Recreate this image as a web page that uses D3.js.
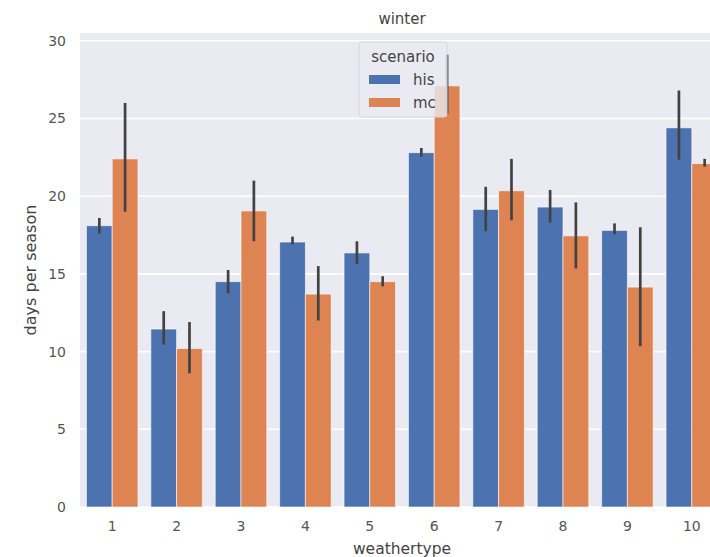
<!doctype html>
<html lang="en">
<head>
    <meta charset="utf-8">
    <title>winter</title>
    <script src="https://cdnjs.cloudflare.com/ajax/libs/d3/7.8.5/d3.min.js"></script>
    <style>
        body { margin: 0; background: #fff; }
        svg { display: block; font-family: 'DejaVu Sans', sans-serif; }
    </style>
</head>
<body>
    <svg id="chart" width="710" height="557"></svg>
    <script>
        // weather types and scenarios
        const categories = ["1", "2", "3", "4", "5", "6", "7", "8", "9", "10"];
        const scenarios = ["his", "mc"];
        const colors = ["#4c72b0", "#dd8452"];

        // mean days per season
        const hisValues = [18.1, 11.45, 14.5, 17.05, 16.35, 22.8, 19.15, 19.3, 17.8, 24.4];
        const mcValues = [22.4, 10.2, 19.05, 13.7, 14.5, 27.1, 20.35, 17.45, 14.15, 22.1];

        // confidence interval low / high
        const hisLow = [17.6, 10.45, 13.75, 16.9, 15.65, 22.55, 17.75, 18.3, 17.55, 22.35];
        const hisHigh = [18.6, 12.6, 15.25, 17.4, 17.1, 23.1, 20.6, 20.4, 18.25, 26.8];
        const mcLow = [19.0, 8.6, 17.1, 12.0, 14.2, 25.3, 18.45, 15.35, 10.35, 21.9];
        const mcHigh = [26.0, 11.9, 21.0, 15.5, 14.85, 29.1, 22.4, 19.6, 18.0, 22.4];

        const yTicks = [0, 5, 10, 15, 20, 25, 30];

        const series = [
            {name: "his", values: hisValues, low: hisLow, high: hisHigh},
            {name: "mc", values: mcValues, low: mcLow, high: mcHigh}
        ];

        const svg = d3.select("#chart");
        const plotLeft = 80, plotRight = 724, plotTop = 33, plotBottom = 507;

        const x = d3.scaleBand().domain(categories).range([plotLeft, plotRight]).paddingInner(0.2).paddingOuter(0.1);
        const xs = d3.scaleBand().domain(scenarios).range([0, x.bandwidth()]);
        const y = d3.scaleLinear().domain([0, 30.5]).range([plotBottom, plotTop]);

        // background
        svg.append("rect")
            .attr("x", plotLeft).attr("y", plotTop)
            .attr("width", plotRight - plotLeft).attr("height", plotBottom - plotTop)
            .attr("fill", "#eaeaf2");

        // grid
        svg.append("g")
            .selectAll("line")
            .data(yTicks)
            .enter()
            .append("line")
            .attr("x1", plotLeft).attr("x2", plotRight)
            .attr("y1", d => y(d)).attr("y2", d => y(d))
            .attr("stroke", "#fff")
            .attr("stroke-width", 1.6);

        // bars
        series.forEach((s, si) => {
            const g = svg.append("g");
            g.selectAll("rect")
                .data(s.values)
                .enter()
                .append("rect")
                .attr("x", (d, i) => x(categories[i]) + xs(s.name))
                .attr("y", d => y(d))
                .attr("width", xs.bandwidth())
                .attr("height", d => y(0) - y(d))
                .attr("fill", colors[si])
                .attr("stroke", "#fff")
                .attr("stroke-opacity", 0.6)
                .attr("stroke-width", 1);

            g.selectAll("line")
                .data(s.values)
                .enter()
                .append("line")
                .attr("x1", (d, i) => x(categories[i]) + xs(s.name) + xs.bandwidth() / 2)
                .attr("x2", (d, i) => x(categories[i]) + xs(s.name) + xs.bandwidth() / 2)
                .attr("y1", (d, i) => y(s.low[i]))
                .attr("y2", (d, i) => y(s.high[i]))
                .attr("stroke", "#424242")
                .attr("stroke-width", 2.7);
        });

        // axes
        const yAxis = svg.append("g")
            .attr("transform", `translate(${plotLeft},0)`)
            .call(d3.axisLeft(y).tickValues(yTicks).tickSize(0).tickPadding(14));
        yAxis.select(".domain").remove();
        yAxis.selectAll("text").attr("font-size", 14).attr("fill", "#555").attr("font-family", "'DejaVu Sans', sans-serif");

        const xAxis = svg.append("g")
            .attr("transform", `translate(0,${plotBottom})`)
            .call(d3.axisBottom(x).tickSize(0).tickPadding(14));
        xAxis.select(".domain").remove();
        xAxis.selectAll("text").attr("font-size", 14).attr("fill", "#555").attr("font-family", "'DejaVu Sans', sans-serif");

        // labels
        svg.append("text")
            .attr("x", (plotLeft + plotRight) / 2).attr("y", 24)
            .attr("text-anchor", "middle")
            .attr("font-size", 15).attr("fill", "#444")
            .text("winter");

        svg.append("text")
            .attr("x", (plotLeft + plotRight) / 2).attr("y", 554)
            .attr("text-anchor", "middle")
            .attr("font-size", 15.5).attr("fill", "#444")
            .text("weathertype");

        svg.append("text")
            .attr("transform", `translate(36,${(plotTop + plotBottom) / 2}) rotate(-90)`)
            .attr("text-anchor", "middle")
            .attr("font-size", 16).attr("fill", "#444")
            .text("days per season");

        // legend
        const legend = svg.append("g");
        legend.append("rect")
            .attr("x", 359).attr("y", 42)
            .attr("width", 88).attr("height", 75)
            .attr("rx", 3)
            .attr("fill", "#eaeaf2").attr("fill-opacity", 0.8)
            .attr("stroke", "#d6d6dc");
        legend.append("text")
            .attr("x", 403).attr("y", 62)
            .attr("text-anchor", "middle")
            .attr("font-size", 15).attr("fill", "#444")
            .text("scenario");
        scenarios.forEach((s, i) => {
            legend.append("rect")
                .attr("x", 369).attr("y", 75 + i * 23)
                .attr("width", 31).attr("height", 9)
                .attr("fill", colors[i]);
            legend.append("text")
                .attr("x", 413).attr("y", 85 + i * 23)
                .attr("font-size", 15).attr("fill", "#444")
                .text(s);
        });
    </script>
</body>
</html>
